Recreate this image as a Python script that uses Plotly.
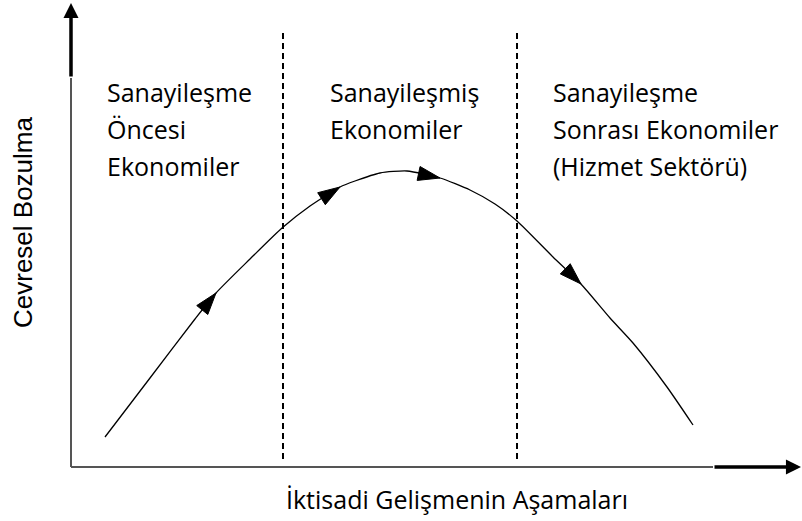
import plotly.graph_objects as go

# ---- data (diagram units: origin at the axes corner, 1 unit ~ 1 px) ----
stage_x = [34, 79, 124, 145, 179, 211, 239, 269, 284, 309, 336, 369, 399, 424, 446, 482, 510, 539, 562, 596, 622]
degradation = [30, 89, 148, 174, 208, 239, 261, 280, 286, 294, 296, 289, 277, 263, 246, 210, 183, 149, 124, 80, 42]
arrow_flag = [0, 0, 0, 1, 0, 0, 0, 1, 0, 0, 0, 1, 0, 0, 0, 0, 1, 0, 0, 0, 0]

divider_x = [212, 446]
divider_y = [8, 435]

block_x = [34, 257, 480]
block_lines = [
    ["Sanayileşme", "Öncesi", "Ekonomiler"],
    ["Sanayileşmiş", "Ekonomiler"],
    ["Sanayileşme", "Sonrası Ekonomiler", "(Hizmet Sektörü)"],
]
line_y = [375, 338, 301]

x_title = "İktisadi Gelişmenin Aşamaları"
y_title = "Cevresel Bozulma"

x_range = [-71, 731]
y_range = [-54, 467]

TXT_FONT = dict(family="Open Sans", size=25, color="#000000")

fig = go.Figure()

fig.add_trace(go.Scatter(
    x=stage_x, y=degradation, mode="lines+markers",
    line=dict(color="#000000", width=1.3, shape="spline", smoothing=0.6),
    marker=dict(symbol="arrow", size=[23 * f for f in arrow_flag], angle=0,
                angleref="previous", color="#000000", opacity=1,
                line=dict(width=1, color="#000000")),
    hoverinfo="skip", showlegend=False,
))

shapes = []
# thin axis parts
shapes.append(dict(type="line", x0=0, y0=0, x1=0, y1=389, xref="x", yref="y",
                   line=dict(color="#555555", width=2)))
shapes.append(dict(type="line", x0=0, y0=0, x1=642, y1=0, xref="x", yref="y",
                   line=dict(color="#555555", width=2)))
for dx in divider_x:
    shapes.append(dict(type="line", x0=dx, x1=dx, y0=divider_y[0], y1=divider_y[1],
                       xref="x", yref="y", line=dict(color="#000000", width=2, dash="6px,4px")))

annotations = []
# thick axis arrows
annotations.append(dict(x=0, y=464, ax=0, ay=389, xref="x", yref="y", axref="x", ayref="y",
                        text="", showarrow=True, arrowhead=2, arrowwidth=3.5, arrowsize=0.86,
                        arrowcolor="#000000"))
annotations.append(dict(x=730, y=0, ax=642, ay=0, xref="x", yref="y", axref="x", ayref="y",
                        text="", showarrow=True, arrowhead=2, arrowwidth=3.5, arrowsize=0.86,
                        arrowcolor="#000000"))

for bx, lines in zip(block_x, block_lines):
    for i, t in enumerate(lines):
        annotations.append(dict(x=bx, y=line_y[i], xref="x", yref="y", text=t, showarrow=False,
                                xanchor="left", yanchor="middle", font=TXT_FONT))

annotations.append(dict(x=213, y=-32, xref="x", yref="y", text=x_title, showarrow=False,
                        xanchor="left", yanchor="middle", font=TXT_FONT))
annotations.append(dict(x=-48, y=245, xref="x", yref="y", text=y_title, showarrow=False,
                        textangle=-90, xanchor="center", yanchor="middle",
                        font=dict(family="Liberation Sans", size=26, color="#000000")))

fig.update_layout(
    width=802, height=521, margin=dict(l=0, r=0, t=0, b=0),
    paper_bgcolor="#ffffff", plot_bgcolor="#ffffff",
    xaxis=dict(range=x_range, visible=False, fixedrange=True),
    yaxis=dict(range=y_range, visible=False, fixedrange=True),
    shapes=shapes, annotations=annotations, showlegend=False,
)

fig.write_html("out.html", config={"displayModeBar": False},
               post_script="document.body.style.margin='0';document.body.style.overflow='hidden';")
